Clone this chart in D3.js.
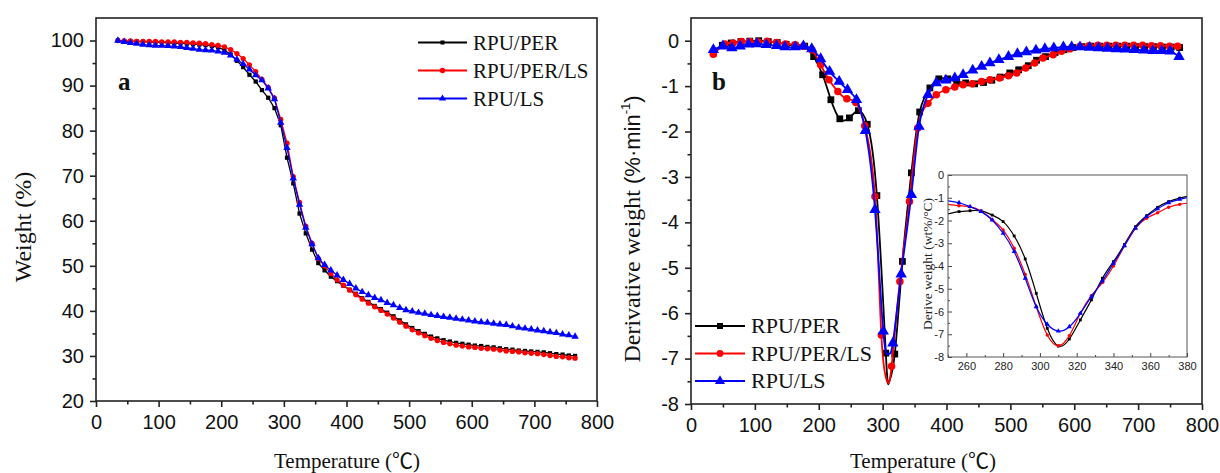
<!DOCTYPE html>
<html>
<head>
<meta charset="utf-8">
<script src="https://cdn.jsdelivr.net/npm/d3@7"></script>
<style>
  body { margin: 0; background: #fff; }
  svg { display: block; }
</style>
</head>
<body>
<svg id="chart" width="1220" height="473"></svg>
<script>
// values
const seriesNames = ["RPU/PER", "RPU/PER/LS", "RPU/LS"];

// panel a : weight (%) against temperature
const tempA = [35,45,55,65,75,85,95,105,115,125,135,145,155,165,175,185,195,205,215,225,
  235,245,255,265,275,285,295,305,315,325,335,345,355,365,375,385,395,405,415,425,
  435,445,455,465,475,485,495,505,515,525,535,545,555,565,575,585,595,605,615,625,
  635,645,655,665,675,685,695,705,715,725,735,745,755,765];
const weightPER = [100,99.9,99.8,99.8,99.7,99.7,99.6,99.6,99.5,99.4,
  99.4,99.3,99.2,99.1,99.0,98.8,98.5,97.9,96.9,95.5,
  94.1,92.4,90.9,89.0,87.3,85.0,81.2,74.0,68.3,61.6,
  57.2,53.6,50.6,49.0,47.6,46.6,45.6,44.7,43.8,42.8,
  42.0,41.1,40.4,39.6,38.8,37.9,37.0,36.2,35.5,34.9,
  34.3,33.9,33.5,33.2,32.9,32.7,32.5,32.3,32.2,32.0,
  31.9,31.7,31.5,31.4,31.2,31.1,31.0,30.9,30.8,30.6,
  30.4,30.3,30.1,30.0];
const weightPERLS = [100,99.9,99.9,99.8,99.8,99.8,99.8,99.7,99.7,99.7,
  99.6,99.6,99.5,99.4,99.3,99.1,98.9,98.6,98.0,97.1,
  96.0,94.6,93.1,91.4,89.6,87.2,82.5,77.2,69.8,64.1,
  58.8,55.0,51.6,50.0,48.3,46.9,45.7,44.6,43.6,42.6,
  41.7,40.9,40.1,39.3,38.4,37.5,36.6,35.8,35.1,34.5,
  33.9,33.4,33.0,32.7,32.4,32.2,32.0,31.9,31.7,31.6,
  31.5,31.3,31.1,31.0,30.9,30.7,30.6,30.5,30.3,30.1,
  29.9,29.8,29.6,29.5];
const weightLS = [100,99.7,99.5,99.3,99.1,99.0,98.9,98.85,98.8,98.7,
  98.6,98.4,98.2,98.0,97.9,97.8,97.6,97.3,96.7,95.8,
  94.8,93.6,92.3,91.2,89.4,87.0,81.8,76.2,69.4,63.6,
  58.5,54.8,51.7,50.2,49.0,47.9,46.9,46.0,45.0,44.2,
  43.5,42.9,42.4,41.8,41.3,40.7,40.2,39.9,39.6,39.4,
  39.1,38.9,38.7,38.5,38.3,38.1,37.9,37.7,37.5,37.4,
  37.2,37.0,36.9,36.6,36.3,36.1,35.9,35.7,35.5,35.3,
  35.1,34.8,34.6,34.3];

// panel b : derivative weight (%/min), symbols only on every few points
const tempB_PER = [35,49,63,78,92,106,121,135,149,163,178,192,206,219,233,248,262,276,291,305,
  319,331,345,358,374,388,402,416,430,444,458,471,484,499,513,528,541,555,570,584,
  598,612,626,640,654,668,682,696,710,724,738,752,765];
const dtgPER = [-0.27,-0.10,-0.05,-0.02,-0.01,0.00,-0.02,-0.04,-0.08,-0.10,
  -0.12,-0.35,-0.75,-1.30,-1.72,-1.70,-1.54,-1.84,-3.41,-6.88,
  -6.90,-4.86,-2.91,-1.57,-1.04,-0.84,-0.84,-0.90,-0.93,-0.95,
  -0.92,-0.87,-0.80,-0.71,-0.64,-0.55,-0.43,-0.35,-0.26,-0.20,
  -0.15,-0.13,-0.12,-0.12,-0.12,-0.12,-0.12,-0.13,-0.13,-0.13,
  -0.14,-0.14,-0.15];
const tempB_PERLS = [35,53,66,79,92,105,119,134,148,163,176,189,203,216,230,244,258,272,288,298,
  314,327,342,355,371,384,399,413,426,440,455,468,483,497,510,524,538,551,567,580,
  593,609,623,637,651,665,679,693,707,721,735,749,762];
const dtgPERLS = [-0.30,-0.07,-0.05,-0.02,-0.02,-0.03,-0.01,-0.04,-0.07,-0.09,
  -0.12,-0.20,-0.53,-0.86,-1.12,-1.28,-1.36,-1.87,-3.43,-6.48,
  -7.17,-5.30,-3.54,-1.92,-1.38,-1.19,-1.08,-1.02,-0.97,-0.95,
  -0.90,-0.86,-0.82,-0.77,-0.71,-0.60,-0.49,-0.38,-0.31,-0.23,
  -0.18,-0.12,-0.11,-0.10,-0.10,-0.10,-0.10,-0.10,-0.10,-0.11,
  -0.11,-0.12,-0.12];
const tempB_LS = [35,50,64,77,90,103,118,134,147,163,176,189,203,217,232,245,259,273,288,301,
  316,329,345,357,371,384,399,413,426,441,455,468,482,497,511,525,540,554,568,583,
  596,609,624,638,652,666,680,694,709,723,737,750,764];
const dtgLS = [-0.20,-0.12,-0.16,-0.12,-0.08,-0.07,-0.09,-0.11,-0.14,-0.14,
  -0.12,-0.18,-0.40,-0.68,-0.90,-1.08,-1.30,-1.98,-3.72,-6.40,
  -6.66,-5.14,-3.39,-1.89,-1.19,-0.93,-0.87,-0.82,-0.75,-0.65,
  -0.57,-0.49,-0.42,-0.35,-0.29,-0.25,-0.21,-0.18,-0.16,-0.14,
  -0.14,-0.14,-0.15,-0.16,-0.17,-0.18,-0.19,-0.20,-0.21,-0.22,
  -0.22,-0.23,-0.35];
// the curve minimum, which falls between two symbols
const peakPER = [310, -7.52];
const peakPERLS = [307, -7.50];
const peakLS = [309, -6.90];

// inset : zoom of the main peak (wt%/°C)
const tempInset = [250,256,262,268,274,280,286,292,298,304,310,316,322,328,334,340,346,352,358,364,370,376,382];
const insetPER = [-1.71,-1.61,-1.57,-1.58,-1.76,-2.05,-2.68,-3.69,-5.20,-6.74,-7.52,-7.21,
  -6.37,-5.49,-4.54,-3.81,-3.05,-2.27,-1.79,-1.42,-1.17,-1.02,-0.90];
const insetPERLS = [-1.29,-1.35,-1.40,-1.58,-1.95,-2.42,-3.22,-4.37,-5.79,-7.03,-7.50,-7.06,
  -6.08,-5.30,-4.73,-4.00,-3.11,-2.34,-1.90,-1.66,-1.42,-1.29,-1.22];
const insetLS = [-1.14,-1.22,-1.39,-1.61,-1.98,-2.56,-3.37,-4.54,-5.79,-6.56,-6.86,-6.67,
  -6.08,-5.35,-4.66,-3.88,-3.11,-2.34,-1.83,-1.49,-1.22,-1.07,-0.96];

// ticks
const xTicks = [0,100,200,300,400,500,600,700,800];
const xMinor = [50,150,250,350,450,550,650,750];
const yTicksA = [20,30,40,50,60,70,80,90,100];
const yMinorA = [25,35,45,55,65,75,85,95];
const yTicksB = [0,-1,-2,-3,-4,-5,-6,-7,-8];
const yMinorB = [-0.5,-1.5,-2.5,-3.5,-4.5,-5.5,-6.5,-7.5];
const insetXTicks = [260,280,300,320,340,360,380];
const insetXMinor = [250,270,290,310,330,350,370];
const insetYTicks = [0,-1,-2,-3,-4,-5,-6,-7,-8];
const insetYMinor = [-0.5,-1.5,-2.5,-3.5,-4.5,-5.5,-6.5,-7.5];

const SANS = "'Liberation Sans', Arial, sans-serif";
const SERIF = "'Liberation Serif', 'Times New Roman', 'Noto Sans CJK SC', serif";
const colors = ["#000000", "#ff0000", "#0000ff"];
const symbols = [d3.symbolSquare, d3.symbolCircle, d3.symbolTriangle];

const svg = d3.select("#chart");
svg.append("rect").attr("width", 1220).attr("height", 473).attr("fill", "#fff");

// draws a framed box with outward ticks on left and bottom
function drawAxes(x, y, xt, xm, yt, ym, opt) {
  const [x0, x1] = x.range();
  const [y0, y1] = y.range();
  const size = opt.major, small = opt.minor;

  const bottom = svg.append("g").attr("transform", `translate(0,${y0})`)
    .call(d3.axisBottom(x).tickValues(xt).tickSize(size).tickPadding(opt.padX).tickFormat(d3.format("d")));
  svg.append("g").attr("transform", `translate(0,${y0})`)
    .call(d3.axisBottom(x).tickValues(xm).tickSize(small).tickFormat(""));
  const left = svg.append("g").attr("transform", `translate(${x0},0)`)
    .call(d3.axisLeft(y).tickValues(yt).tickSize(size).tickPadding(opt.padY).tickFormat(d => d3.format("d")(d).replace("−", "-")));
  svg.append("g").attr("transform", `translate(${x0},0)`)
    .call(d3.axisLeft(y).tickValues(ym).tickSize(small).tickFormat(""));

  svg.selectAll(".domain").remove();
  svg.selectAll(".tick line").attr("stroke", "#222").attr("stroke-width", opt.stroke);
  [bottom, left].forEach(g => g.selectAll("text")
    .attr("font-family", SANS).attr("font-size", opt.font).attr("fill", "#111"));

  svg.append("rect")
    .attr("x", x0).attr("y", y1).attr("width", x1 - x0).attr("height", y0 - y1)
    .attr("fill", "none").attr("stroke", "#222").attr("stroke-width", opt.stroke);
}

// line through all points (plus an optional unmarked extra point), symbols on the listed ones
function drawSeries(g, xs, ys, x, y, i, opt, extra) {
  const pts = xs.map((t, k) => [t, ys[k]]);
  const linePts = extra ? pts.concat([extra]).sort((a, b) => a[0] - b[0]) : pts;
  g.append("path").datum(linePts)
    .attr("fill", "none").attr("stroke", colors[i]).attr("stroke-width", opt.lw)
    .attr("d", d3.line().x(d => x(d[0])).y(d => y(d[1])).curve(opt.curve));
  const [lo, hi] = x.domain();
  g.selectAll(null).data(pts.filter(d => d[0] > lo && d[0] < hi)).join("path")
    .attr("transform", d => `translate(${x(d[0])},${y(d[1])})`)
    .attr("d", d3.symbol(symbols[i], opt.sizes[i])())
    .attr("fill", colors[i]);
}

function drawLegend(x, y0, gap, len, sizes, font) {
  seriesNames.forEach((name, i) => {
    const y = y0 + i * gap;
    svg.append("line").attr("x1", x).attr("x2", x + len).attr("y1", y).attr("y2", y)
      .attr("stroke", colors[i]).attr("stroke-width", 2);
    svg.append("path").attr("transform", `translate(${x + len / 2},${y})`)
      .attr("d", d3.symbol(symbols[i], sizes[i])()).attr("fill", colors[i]);
    svg.append("text").attr("x", x + len + 6).attr("y", y + font * 0.34)
      .attr("font-family", SERIF).attr("font-size", font).attr("fill", "#111").text(name);
  });
}

// ---------- panel a ----------
const xA = d3.scaleLinear().domain([0, 800]).range([96, 597]);
const yA = d3.scaleLinear().domain([20, 105]).range([401, 18]);
drawAxes(xA, yA, xTicks, xMinor, yTicksA, yMinorA,
  { major: 6, minor: 3.5, padX: 8, padY: 6, font: 20, stroke: 1.6 });

const gA = svg.append("g");
const optA = { lw: 1.3, curve: d3.curveLinear, sizes: [18, 22, 24] };
drawSeries(gA, tempA, weightPER, xA, yA, 0, optA);
drawSeries(gA, tempA, weightPERLS, xA, yA, 1, optA);
drawSeries(gA, tempA, weightLS, xA, yA, 2, optA);

drawLegend(418, 42.5, 28, 49, [16, 22, 22], 21);

svg.append("text").attr("x", 118).attr("y", 90).attr("font-family", SERIF)
  .attr("font-weight", "bold").attr("font-size", 25).attr("fill", "#111").text("a");
svg.append("text").attr("transform", "translate(31,227) rotate(-90)")
  .attr("text-anchor", "middle").attr("font-family", SERIF).attr("font-size", 24)
  .attr("fill", "#111").text("Weight (%)");
svg.append("text").attr("x", 347).attr("y", 468).attr("text-anchor", "middle")
  .attr("font-family", SERIF).attr("font-size", 21).attr("fill", "#111").text("Temperature (℃)");

// ---------- panel b ----------
const xB = d3.scaleLinear().domain([0, 800]).range([691, 1202]);
const yB = d3.scaleLinear().domain([-8, 0.5]).range([404, 18]);
drawAxes(xB, yB, xTicks, xMinor, yTicksB, yMinorB,
  { major: 6, minor: 3.5, padX: 8, padY: 6, font: 20, stroke: 1.6 });

const gB = svg.append("g");
const optB = { lw: 1.8, curve: d3.curveNatural, sizes: [46, 44, 56] };
drawSeries(gB, tempB_PER, dtgPER, xB, yB, 0, optB, peakPER);
drawSeries(gB, tempB_PERLS, dtgPERLS, xB, yB, 1, optB, peakPERLS);
drawSeries(gB, tempB_LS, dtgLS, xB, yB, 2, optB, peakLS);

drawLegend(695, 326, 27.5, 50, [36, 36, 44], 22);

svg.append("text").attr("x", 712).attr("y", 90).attr("font-family", SERIF)
  .attr("font-weight", "bold").attr("font-size", 25).attr("fill", "#111").text("b");

const yLab = svg.append("text").attr("transform", "translate(640,229) rotate(-90)")
  .attr("text-anchor", "middle").attr("font-size", 24).attr("fill", "#111");
yLab.append("tspan").attr("font-family", SERIF).text("Derivative weight ");
yLab.append("tspan").attr("font-family", SANS).attr("font-size", 22).text(" (%·min");
yLab.append("tspan").attr("font-family", SANS).attr("font-size", 13).attr("dy", -10).text("-1");
yLab.append("tspan").attr("font-family", SANS).attr("font-size", 22).attr("dy", 10).text(")");

svg.append("text").attr("x", 923).attr("y", 468).attr("text-anchor", "middle")
  .attr("font-family", SERIF).attr("font-size", 21).attr("fill", "#111").text("Temperature (℃)");

// ---------- inset ----------
const xI = d3.scaleLinear().domain([250, 380]).range([948, 1187]);
const yI = d3.scaleLinear().domain([-8, 0]).range([357, 175]);
svg.append("rect").attr("x", 948).attr("y", 175).attr("width", 239).attr("height", 182).attr("fill", "#fff");

svg.append("defs").append("clipPath").attr("id", "insetClip")
  .append("rect").attr("x", 948).attr("y", 175).attr("width", 239).attr("height", 182);

const gI = svg.append("g").attr("clip-path", "url(#insetClip)");
const optI = { lw: 1.2, curve: d3.curveNatural, sizes: [8, 9, 11] };
drawSeries(gI, tempInset, insetPER, xI, yI, 0, optI);
drawSeries(gI, tempInset, insetPERLS, xI, yI, 1, optI);
drawSeries(gI, tempInset, insetLS, xI, yI, 2, optI);

// inset axes: small inward ticks
const ib = svg.append("g").attr("transform", "translate(0,357)")
  .call(d3.axisBottom(xI).tickValues(insetXTicks).tickSize(-4).tickPadding(5));
svg.append("g").attr("transform", "translate(0,357)")
  .call(d3.axisBottom(xI).tickValues(insetXMinor).tickSize(-2).tickFormat(""));
const il = svg.append("g").attr("transform", "translate(948,0)")
  .call(d3.axisLeft(yI).tickValues(insetYTicks).tickSize(-4).tickPadding(4)
    .tickFormat(d => d3.format("d")(d).replace("−", "-")));
svg.append("g").attr("transform", "translate(948,0)")
  .call(d3.axisLeft(yI).tickValues(insetYMinor).tickSize(-2).tickFormat(""));
svg.selectAll(".domain").remove();
svg.selectAll(".tick line").filter(function () { return !this.getAttribute("stroke-width"); })
  .attr("stroke", "#444").attr("stroke-width", 1);
[ib, il].forEach(g => g.selectAll("text").attr("font-family", SANS).attr("font-size", 11).attr("fill", "#222"));

svg.append("rect").attr("x", 948).attr("y", 175).attr("width", 239).attr("height", 182)
  .attr("fill", "none").attr("stroke", "#555").attr("stroke-width", 1);

svg.append("text").attr("transform", "translate(932,264) rotate(-90)")
  .attr("text-anchor", "middle").attr("font-family", SERIF).attr("font-size", 13.5)
  .attr("fill", "#222").text("Derive weight (wt%/°C)");
</script>
</body>
</html>
